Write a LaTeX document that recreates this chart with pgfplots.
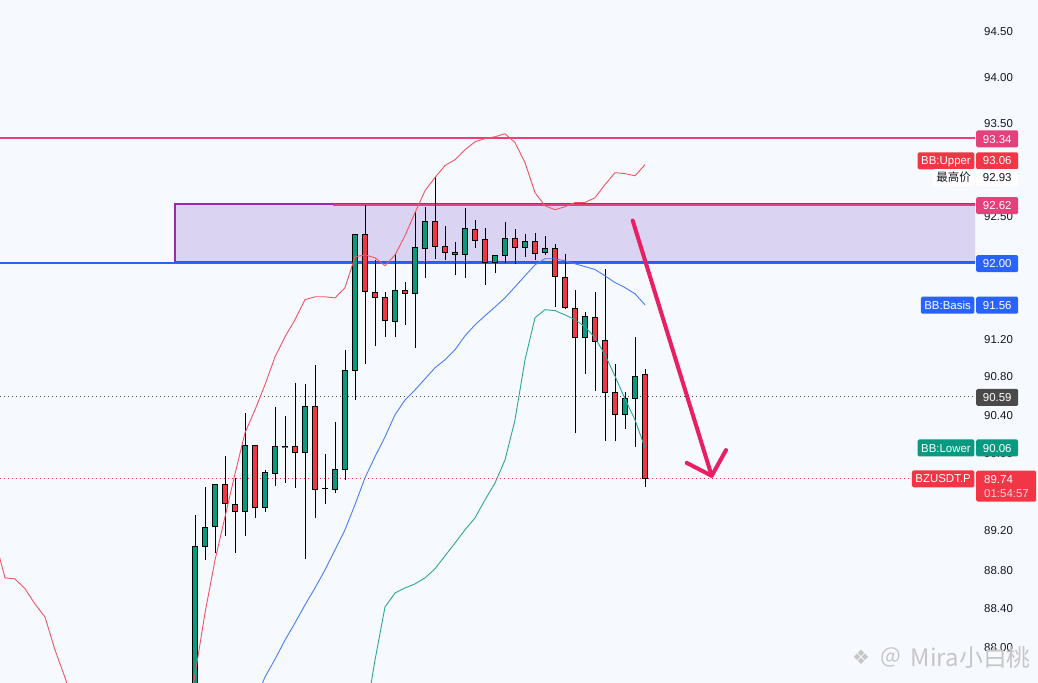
\documentclass[border=0pt]{standalone}
\usepackage{pgfplots}
\pgfplotsset{compat=1.18}
\usepackage{pgfplotstable}
\usepackage{fontspec}
\setmainfont{Liberation Sans}
\newfontfamily\cjk{Noto Sans CJK SC}
\newfontfamily\dejavu{DejaVu Sans}
\definecolor{bgcol}{HTML}{F6F9FE}
\definecolor{bbgreen}{HTML}{089981}
\definecolor{bbred}{HTML}{F23645}
\definecolor{bbblue}{HTML}{2962FF}
\definecolor{tvpink}{HTML}{E5407A}
\definecolor{boxfill}{HTML}{DAD3F1}
\definecolor{boxborder}{HTML}{9C27B0}
\definecolor{arrowcol}{HTML}{E91E63}
\definecolor{tvgray}{HTML}{4A4A4A}
\definecolor{tvtext}{HTML}{131722}

\pgfplotstableread{
i O H L C
0 87.40 89.365 87.30 89.044
1 89.044 89.655 88.900 89.230
2 89.241 89.676 88.972 89.676
3 89.676 89.977 89.148 89.479
4 89.468 89.748 88.972 89.396
5 89.396 90.425 89.148 90.081
6 90.081 90.081 89.334 89.437
7 89.437 89.831 89.396 89.800
8 89.790 90.488 89.665 90.071
9 90.070 90.394 89.696 90.072
10 90.070 90.740 89.645 90.008
11 90.008 90.729 88.911 90.488
12 90.488 90.929 89.334 89.624
13 89.634 89.997 89.479 89.636
14 89.624 90.331 89.593 89.831
15 89.831 91.087 89.727 90.866
16 90.866 92.317 90.561 92.307
17 92.307 92.620 90.940 91.700
18 91.689 92.040 91.129 91.636
19 91.636 91.700 91.224 91.393
20 91.383 92.114 91.224 91.711
21 91.711 91.806 91.351 91.679
22 91.679 92.553 91.108 92.168
23 92.157 92.606 91.849 92.446
24 92.446 92.928 92.050 92.178
25 92.178 92.403 92.040 92.114
26 92.114 92.232 91.881 92.093
27 92.093 92.596 91.849 92.371
28 92.360 92.467 92.168 92.243
29 92.253 92.381 91.775 92.007
30 92.007 92.093 91.902 92.082
31 92.082 92.446 92.007 92.264
32 92.264 92.371 91.997 92.168
33 92.168 92.317 92.072 92.232
34 92.232 92.328 92.040 92.104
35 92.114 92.296 92.093 92.157
36 92.157 92.210 91.541 91.859
37 91.849 92.104 91.520 91.531
38 91.520 91.721 90.216 91.214
39 91.214 91.488 90.834 91.435
40 91.425 91.700 90.656 91.172
41 91.182 91.944 90.133 90.635
42 90.635 90.940 90.133 90.404
43 90.404 90.645 90.258 90.582
44 90.582 91.224 90.070 90.813
45 90.824 90.887 89.656 89.740
}\candles

\pgfplotstableread{
i v
-20 89.106
-19 88.716
-18 88.705
-17 88.603
-16 88.449
-15 88.317
-14 87.980
-13 87.700
-12 87.370
}\bbupleft

\pgfplotstableread{
i v
-1 87.20
0 87.725
1 88.357
2 88.900
3 89.344
4 89.790
5 90.216
6 90.457
7 90.719
8 91.013
9 91.224
10 91.404
11 91.615
12 91.647
13 91.647
14 91.636
15 91.742
16 92.072
17 92.093
18 92.061
19 91.977
20 92.093
21 92.296
22 92.542
23 92.777
24 92.918
25 93.047
26 93.111
27 93.219
28 93.305
29 93.338
30 93.360
31 93.392
32 93.295
33 93.079
34 92.756
35 92.617
36 92.574
37 92.606
38 92.649
39 92.649
40 92.703
41 92.843
42 92.972
43 92.961
44 92.940
45 93.058
}\bbup

\pgfplotstableread{
i v
6 87.47
7 87.705
8 87.888
9 88.082
10 88.255
11 88.439
12 88.613
13 88.798
14 89.003
15 89.210
16 89.468
17 89.748
18 89.966
19 90.174
20 90.404
21 90.561
22 90.666
23 90.782
24 90.898
25 90.982
26 91.087
27 91.235
28 91.351
29 91.445
30 91.541
31 91.636
32 91.753
33 91.870
34 91.987
35 92.050
36 92.050
37 92.029
38 91.997
39 91.966
40 91.934
41 91.870
42 91.796
43 91.742
44 91.679
45 91.560
}\bbmid

\pgfplotstableread{
i v
17 87.27
18 87.878
19 88.419
20 88.562
21 88.613
22 88.654
23 88.716
24 88.808
25 88.941
26 89.075
27 89.210
28 89.334
29 89.520
30 89.696
31 89.935
32 90.352
33 90.982
34 91.425
35 91.509
36 91.499
37 91.456
38 91.404
39 91.330
40 91.214
41 91.034
42 90.813
43 90.572
44 90.352
45 90.060
}\bblow

\begin{document}
\begin{tikzpicture}[
  tag/.style={inner xsep=3.5bp, inner ysep=0bp, minimum height=17bp, text height=8.2bp, text depth=0pt,
    font=\fontsize{11.5}{13}\selectfont, text=white, rounded corners=1.5bp},
  rtag/.style={tag, anchor=west, minimum width=42bp, xshift=1bp},
  ltag/.style={tag, anchor=east, xshift=-0.5bp}]
\useasboundingbox (0,0) rectangle (1038bp,683bp);
\fill[bgcol] (0,0) rectangle (1038bp,683bp);
\begin{axis}[
  at={(0,0)}, anchor=south west, scale only axis,
  width=975bp, height=683bp,
  xmin=-19.5, xmax=78,
  y coord trafo/.code={\pgfmathparse{ln(#1)*1000}},
  ymin=87.6444, ymax=94.8505,
  axis line style={draw=none},
  xtick=\empty,
  ytick={88,88.4,88.8,89.2,90,90.4,90.8,91.2,91.6,92.5,93.5,94,94.5},
  yticklabels={88.00,88.40,88.80,89.20,90.00,90.40,90.80,91.20,91.60,92.50,93.50,94.00,94.50},
  yticklabel pos=right,
  ytick style={draw=none}, major tick length=0pt,
  yticklabel style={font=\fontsize{11.5}{13}\selectfont, text=tvtext, inner sep=0pt, anchor=west, xshift=9bp},
  /pgf/number format/assume math mode=true,
]
% zone box
\addplot[forget plot, fill=boxfill, draw=boxborder, line width=2bp] coordinates {(-2,92.013) (80,92.013) (80,92.635) (-2,92.635)} --cycle;
% horizontal levels
\addplot[forget plot, bbblue, line width=2bp] coordinates {(-19.5,92.00) (78,92.00)};
\addplot[forget plot, tvpink, line width=2bp] coordinates {(-19.5,93.34) (78,93.34)};
\addplot[forget plot, tvpink, line width=2bp] coordinates {(13.8,92.62) (78,92.62)};
\addplot[forget plot, white, line width=1bp, dash pattern=on 1bp off 3bp] coordinates {(-19.5,92.93) (78,92.93)};
\addplot[forget plot, tvgray, line width=1bp, dash pattern=on 1bp off 3bp] coordinates {(-19.5,90.59) (78,90.59)};
\addplot[forget plot, bbred, line width=1bp, dash pattern=on 1bp off 3bp] coordinates {(-19.5,89.74) (78,89.74)};
% candles
\pgfplotstablegetrowsof{\candles}
\pgfmathtruncatemacro{\lastrow}{\pgfplotsretval-1}
\pgfplotsforeachungrouped \rowi in {0,...,\lastrow}{%
  \pgfplotstablegetelem{\rowi}{i}\of\candles \edef\ci{\pgfplotsretval}%
  \pgfplotstablegetelem{\rowi}{O}\of\candles \edef\co{\pgfplotsretval}%
  \pgfplotstablegetelem{\rowi}{H}\of\candles \edef\chh{\pgfplotsretval}%
  \pgfplotstablegetelem{\rowi}{L}\of\candles \edef\cl{\pgfplotsretval}%
  \pgfplotstablegetelem{\rowi}{C}\of\candles \edef\cc{\pgfplotsretval}%
  \ifdim\cc pt<\co pt \def\ccol{bbred}\else\def\ccol{bbgreen}\fi
  \pgfmathsetmacro\xa{\ci-0.28}%
  \pgfmathsetmacro\xb{\ci+0.28}%
  \edef\tmp{%
    \noexpand\addplot[forget plot, black, line width=1bp] coordinates {(\ci,\cl) (\ci,\chh)};%
    \noexpand\addplot[forget plot, fill=\ccol, draw=black, line width=1bp] coordinates {(\xa,\co) (\xb,\co) (\xb,\cc) (\xa,\cc)} --cycle;%
  }\tmp
}
% Bollinger bands
\addplot[forget plot, bbred!85!white, line width=0.9bp] table[x=i,y=v] {\bbupleft};
\addplot[forget plot, bbred!85!white, line width=0.9bp] table[x=i,y=v] {\bbup};
\addplot[forget plot, bbblue!85!white, line width=0.9bp] table[x=i,y=v] {\bbmid};
\addplot[forget plot, bbgreen!85!white, line width=0.9bp] table[x=i,y=v] {\bblow};
% arrow
\draw[arrowcol, line width=4bp, line cap=round, line join=round] (axis cs:43.77,92.46) -- (axis cs:51.67,89.769);
\draw[arrowcol, line width=4bp, line cap=round, line join=round] (axis cs:49.17,89.906) -- (axis cs:51.67,89.769) -- (axis cs:53.1,90.039);
% tag anchors
\coordinate (c9334) at (axis cs:78,93.34);
\coordinate (c9306) at (axis cs:78,93.10);
\coordinate (c9293) at (axis cs:78,92.92);
\coordinate (c9262) at (axis cs:78,92.62);
\coordinate (c9200) at (axis cs:78,92.00);
\coordinate (c9156) at (axis cs:78,91.56);
\coordinate (c9059) at (axis cs:78,90.59);
\coordinate (c9006) at (axis cs:78,90.06);
\coordinate (c8974) at (axis cs:78,89.74);
\end{axis}
% price tags
\node[rtag, fill=tvpink] at (c9334) {93.34};
\node[rtag, fill=bbred] at (c9306) {93.06};
\node[ltag, fill=bbred] at (c9306) {BB:Upper};
\node[rtag, fill=white, text=tvtext] at (c9293) {92.93};
\node[ltag, fill=white, text=tvtext, font=\cjk\fontsize{11.5}{13}\selectfont] at (c9293) {最高价};
\node[rtag, fill=tvpink] at (c9262) {92.62};
\node[rtag, fill=bbblue] at (c9200) {92.00};
\node[rtag, fill=bbblue] at (c9156) {91.56};
\node[ltag, fill=bbblue] at (c9156) {BB:Basis};
\node[rtag, fill=tvgray] at (c9059) {90.59};
\node[rtag, fill=bbgreen] at (c9006) {90.06};
\node[ltag, fill=bbgreen] at (c9006) {BB:Lower};
\node[ltag, fill=bbred] at (c8974) {BZUSDT.P};
\node[anchor=north west, fill=bbred, minimum width=60bp, minimum height=31bp, inner sep=0pt, rounded corners=1.5bp] (bz) at ([xshift=1bp,yshift=8.5bp]c8974) {};
\node[anchor=west, text=white, inner sep=0pt, font=\fontsize{11.5}{13}\selectfont] at ([xshift=8bp,yshift=-8.7bp]bz.north west) {89.74};
\node[anchor=west, text=white!78!bbred, inner sep=0pt, font=\fontsize{11.5}{13}\selectfont] at ([xshift=8bp,yshift=-22.7bp]bz.north west) {01:54:57};
% watermark
\node[text=gray!45, inner sep=0pt, font=\dejavu\fontsize{20}{22}\selectfont] at (861bp,26bp) {❖};
\node[text=gray!45, inner sep=0pt, font=\cjk\fontsize{22}{24}\selectfont] at (891bp,26bp) {@};
\node[anchor=east, text=gray!45, inner sep=0pt, font=\cjk\fontsize{24}{26}\selectfont] at (1031bp,26bp) {Mira小白桃};
\end{tikzpicture}
\end{document}
